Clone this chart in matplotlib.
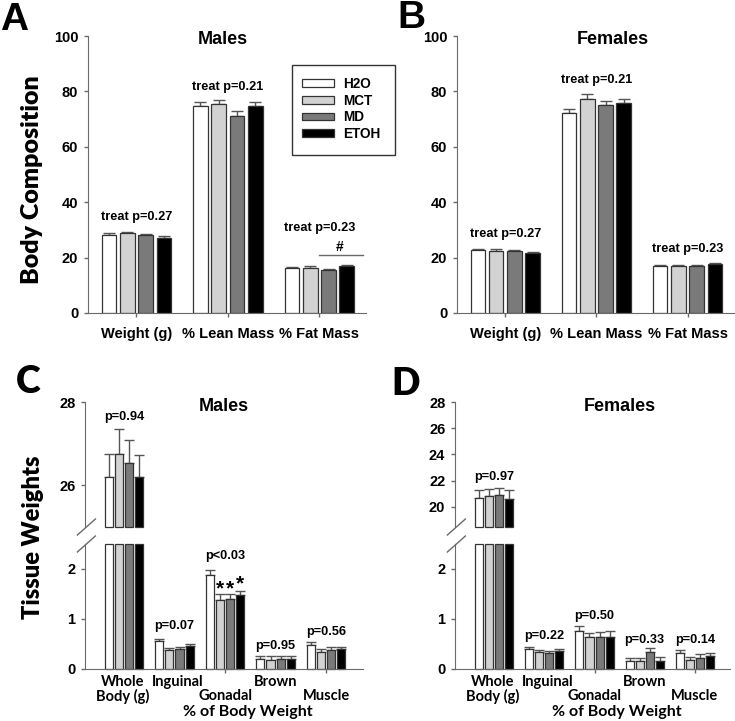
import matplotlib
matplotlib.use('Agg')
import matplotlib.pyplot as plt
from matplotlib.patches import Rectangle
import numpy as np
from matplotlib.transforms import blended_transform_factory as btf

# ---------------- data ----------------
treatments = ['H2O', 'MCT', 'MD', 'ETOH']
bar_colors = ['white', '#d2d2d2', '#7a7a7a', 'black']

bc_groups = ['Weight (g)', '% Lean Mass', '% Fat Mass']
# rows: H2O, MCT, MD, ETOH ; cols: weight, lean, fat
male_bc_mean = [[28.3, 74.8, 16.2],
                [28.9, 75.3, 16.3],
                [28.0, 71.2, 15.4],
                [27.2, 74.6, 17.0]]
male_bc_err = [[0.5, 1.5, 0.5],
               [0.5, 1.7, 0.5],
               [0.5, 1.6, 0.5],
               [0.5, 1.4, 0.5]]
female_bc_mean = [[22.7, 72.1, 16.9],
                  [22.5, 77.4, 16.9],
                  [22.3, 75.0, 16.9],
                  [21.5, 75.7, 17.6]]
female_bc_err = [[0.5, 1.7, 0.5],
                 [0.5, 1.6, 0.5],
                 [0.5, 1.6, 0.5],
                 [0.5, 1.7, 0.5]]
male_bc_p = ['treat p=0.27', 'treat p=0.21', 'treat p=0.23']
male_bc_p_y = [33.4, 80.5, 29.7]
female_bc_p = ['treat p=0.27', 'treat p=0.21', 'treat p=0.23']
female_bc_p_y = [27.3, 83.2, 21.9]

tw_groups = ['Whole\nBody (g)', 'Inguinal', 'Gonadal', 'Brown', 'Muscle']
# rows: H2O, MCT, MD, ETOH ; cols: whole body, inguinal, gonadal, brown, muscle
male_tw_mean = [[26.20, 0.56, 1.89, 0.20, 0.48],
                [26.76, 0.39, 1.39, 0.19, 0.35],
                [26.54, 0.41, 1.41, 0.20, 0.39],
                [26.20, 0.47, 1.48, 0.20, 0.40]]
male_tw_err = [[0.56, 0.04, 0.10, 0.07, 0.06],
               [0.60, 0.04, 0.11, 0.07, 0.05],
               [0.56, 0.03, 0.10, 0.06, 0.05],
               [0.52, 0.04, 0.09, 0.06, 0.05]]
female_tw_mean = [[20.71, 0.40, 0.77, 0.17, 0.32],
                  [20.81, 0.34, 0.64, 0.17, 0.19],
                  [20.89, 0.32, 0.65, 0.35, 0.23],
                  [20.63, 0.36, 0.65, 0.17, 0.26]]
female_tw_err = [[0.56, 0.05, 0.10, 0.06, 0.06],
                 [0.54, 0.04, 0.09, 0.06, 0.05],
                 [0.58, 0.04, 0.10, 0.07, 0.07],
                 [0.64, 0.04, 0.12, 0.08, 0.06]]
male_tw_p = ['p=0.94', 'p=0.07', 'p<0.03', 'p=0.95', 'p=0.56']
male_tw_p_y = [27.56, 0.79, 2.21, 0.41, 0.69]
female_tw_p = ['p=0.97', 'p=0.22', 'p=0.50', 'p=0.33', 'p=0.14']
female_tw_p_y = [22.03, 0.60, 0.99, 0.52, 0.52]

# ---------------- style ----------------
ARIAL = 'Liberation Sans'
CAL = 'Lato'
plt.rcParams['font.family'] = [ARIAL, 'DejaVu Sans']
plt.rcParams['font.weight'] = 'bold'
SPINE = '#6a6a6a'
EDGE = '#333333'
ERR = '#555555'

W, H = 735, 721
fig = plt.figure(figsize=(W / 100, H / 100), dpi=100)


def ax_px(l, t, r, b):
    return fig.add_axes([l / W, 1 - b / H, (r - l) / W, (b - t) / H])


def style_axis(ax, bottom=True):
    for s in ['top', 'right']:
        ax.spines[s].set_visible(False)
    ax.spines['left'].set_color(SPINE)
    ax.spines['bottom'].set_color(SPINE)
    ax.spines['bottom'].set_visible(bottom)
    ax.tick_params(axis='both', colors=SPINE, labelcolor='black', direction='out',
                   length=3, width=1, labelsize=10.5, pad=4)
    ax.set_facecolor('none')


def body_panel(ax, means, errs, ptexts, py, title, title_x):
    x = np.arange(len(bc_groups))
    for i in range(4):
        pos = x + (i - 1.5) * 0.2
        m = np.array(means[i])
        e = np.array(errs[i])
        ax.errorbar(pos, m, yerr=[np.zeros_like(e), e], fmt='none', ecolor=ERR,
                    elinewidth=1, capsize=4.3, capthick=1, zorder=1)
        ax.bar(pos, m, width=0.16, color=bar_colors[i], edgecolor=EDGE,
               linewidth=0.9, label=treatments[i], zorder=2)
    style_axis(ax)
    ax.set_xlim(-0.53, 2.51)
    ax.set_ylim(0, 100)
    ax.set_yticks(np.arange(0, 101, 20))
    ax.set_xticks(x)
    ax.set_xticklabels(bc_groups, fontsize=10.5, fontweight='bold')
    ax.tick_params(axis='x', pad=7)
    for xi, t, yy in zip(x, ptexts, py):
        ax.text(xi, yy, t, ha='center', va='baseline', fontsize=9.2, fontweight='bold')
    ax.text(title_x, 0.972, title, transform=ax.transAxes, ha='center', va='baseline',
            fontsize=13, fontweight='bold')


def tissue_panel(ax_top, ax_bot, means, errs, ptexts, py, upper_ylim, upper_ticks,
                 title, title_x, xlim):
    x = np.arange(len(tw_groups))
    low_top = 2.5
    for i in range(4):
        pos = x + (i - 1.5) * 0.2
        m = np.array(means[i])
        e = np.array(errs[i])
        # upper (broken) part: whole body only
        ax_top.errorbar(pos[:1], m[:1], yerr=[[0], e[:1]], fmt='none', ecolor=ERR,
                        elinewidth=1, capsize=3.6, capthick=1, zorder=1)
        ax_top.bar(pos[:1], m[:1] - upper_ylim[0], bottom=upper_ylim[0], width=0.16,
                   color=bar_colors[i], edgecolor=EDGE, linewidth=0.9, zorder=2,
                   clip_on=False)
        # lower part
        ax_bot.bar(pos, np.minimum(m, low_top), width=0.16, color=bar_colors[i],
                   edgecolor=EDGE, linewidth=0.9, zorder=2, clip_on=False)
        ax_bot.errorbar(pos[1:], m[1:], yerr=[np.zeros(4), e[1:]], fmt='none',
                        ecolor=ERR, elinewidth=1, capsize=3.6, capthick=1, zorder=1)
    for ax in (ax_top, ax_bot):
        style_axis(ax, bottom=(ax is ax_bot))
        ax.set_xlim(*xlim)
    ax_top.set_ylim(*upper_ylim)
    ax_top.set_yticks(upper_ticks)
    ax_top.set_xticks([])
    ax_bot.set_ylim(0, low_top)
    ax_bot.set_yticks([0, 1, 2])
    ax_bot.set_xticks([2, 4])
    ax_bot.set_xticklabels([])
    # staggered category labels
    tr = btf(ax_bot.transData, ax_bot.transAxes)
    rows = [-0.136, -0.136, -0.248, -0.136, -0.248]
    xoff = [0, 0.07, 0, 0, 0]
    for xi, lab, r, dx in zip(x, tw_groups, rows, xoff):
        if '\n' in lab:
            l1, l2 = lab.split('\n')
            ax_bot.text(xi - 0.03, -0.136, l1, transform=tr, ha='center', va='baseline',
                        fontsize=10.5, fontweight='bold', family=CAL)
            ax_bot.text(xi - 0.03, -0.252, l2, transform=tr, ha='center', va='baseline',
                        fontsize=10.5, fontweight='bold', family=CAL)
        else:
            ax_bot.text(xi + dx, r, lab, transform=tr, ha='center', va='baseline',
                        fontsize=10.5, fontweight='bold', family=CAL)
    ax_bot.text(2.45, -0.378, '% of Body Weight', transform=tr, ha='center',
                va='baseline', fontsize=11.5, fontweight='bold', family=CAL)
    # p-values
    ax_top.text(x[0], py[0], ptexts[0], ha='center', va='baseline', fontsize=9.2,
                fontweight='bold')
    for xi, t, yy in zip(x[1:], ptexts[1:], py[1:]):
        ax_bot.text(xi, yy, t, ha='center', va='baseline', fontsize=9.2,
                    fontweight='bold')
    ax_top.text(title_x, 0.93, title, transform=ax_top.transAxes, ha='center',
                va='baseline', fontsize=13, fontweight='bold')
    # break marks
    wpx = ax_bot.get_position().width * W
    hpx = ax_bot.get_position().height * H
    dx, dy = 9 / wpx, 8 / hpx
    for ax, y0 in ((ax_top, 0.0), (ax_bot, 1.0)):
        ax.plot([-dx + 0.005, dx + 0.005], [y0 - dy, y0 + dy], transform=ax.transAxes,
                color=SPINE, lw=1, clip_on=False)


# ---------------- panels A, B ----------------
axA = ax_px(88, 36, 366, 313)
body_panel(axA, male_bc_mean, male_bc_err, male_bc_p, male_bc_p_y, 'Males', 0.484)
axA.plot([2.0, 2.48], [21.1, 21.1], color=SPINE, lw=1)
axA.text(2.22, 22.4, '#', ha='center', va='baseline', fontsize=10, fontweight='bold')
leg = axA.legend(loc='upper left', bbox_to_anchor=(302 / W, 1 - 77 / H),
                 bbox_transform=fig.transFigure, borderaxespad=0, frameon=False,
                 prop={'family': ARIAL, 'weight': 'bold', 'size': 9.8},
                 handlelength=2.35, handleheight=0.5, handletextpad=0.65,
                 labelspacing=0.2, borderpad=0)
fig.patches.append(Rectangle((292 / W, 1 - 155 / H), (395 - 292) / W, 90 / H,
                             transform=fig.transFigure, fill=False,
                             edgecolor='#333333', lw=1.0))

axB = ax_px(457, 36, 734, 313)
body_panel(axB, female_bc_mean, female_bc_err, female_bc_p, female_bc_p_y,
           'Females', 0.564)

# ---------------- panels C, D ----------------
axC_top = ax_px(85, 402, 363, 527)
axC_bot = ax_px(85, 544, 363, 669)
tissue_panel(axC_top, axC_bot, male_tw_mean, male_tw_err, male_tw_p, male_tw_p_y,
             (25.0, 28.0), [26, 28], 'Males', 0.5, (-0.77, 4.73))
# significance stars (gonadal MCT, MD, ETOH)
for i, yy in zip([1, 2, 3], [1.6, 1.6, 1.7]):
    axC_bot.text(2 + (i - 1.5) * 0.2, yy, '*', ha='center', va='center',
                 fontsize=15, fontweight='bold')

axD_top = ax_px(455, 402, 730, 527)
axD_bot = ax_px(455, 544, 730, 669)
tissue_panel(axD_top, axD_bot, female_tw_mean, female_tw_err, female_tw_p,
             female_tw_p_y, (18.47, 28.0), [20, 22, 24, 26, 28], 'Females', 0.6,
             (-0.78, 4.7))

# ---------------- labels ----------------
fig.text(32 / W, 1 - 180 / H, 'Body Composition', rotation=90, ha='center', va='center',
         fontsize=18, fontweight='heavy', family=CAL)
fig.text(33 / W, 1 - 537 / H, 'Tissue Weights', rotation=90, ha='center', va='center',
         fontsize=17, fontweight='heavy', family=CAL)
fig.text(0 / W, 1 - 30 / H, 'A', ha='left', va='baseline', fontsize=28, fontweight='bold')
fig.text(397 / W, 1 - 28 / H, 'B', ha='left', va='baseline', fontsize=28, fontweight='bold')
fig.text(16 / W, 1 - 393 / H, 'C', ha='left', va='baseline', fontsize=27, fontweight='heavy',
         family=CAL)
fig.text(391 / W, 1 - 395 / H, 'D', ha='left', va='baseline', fontsize=27, fontweight='heavy',
         family=CAL)

fig.savefig('out.png', dpi=100, facecolor='white')
